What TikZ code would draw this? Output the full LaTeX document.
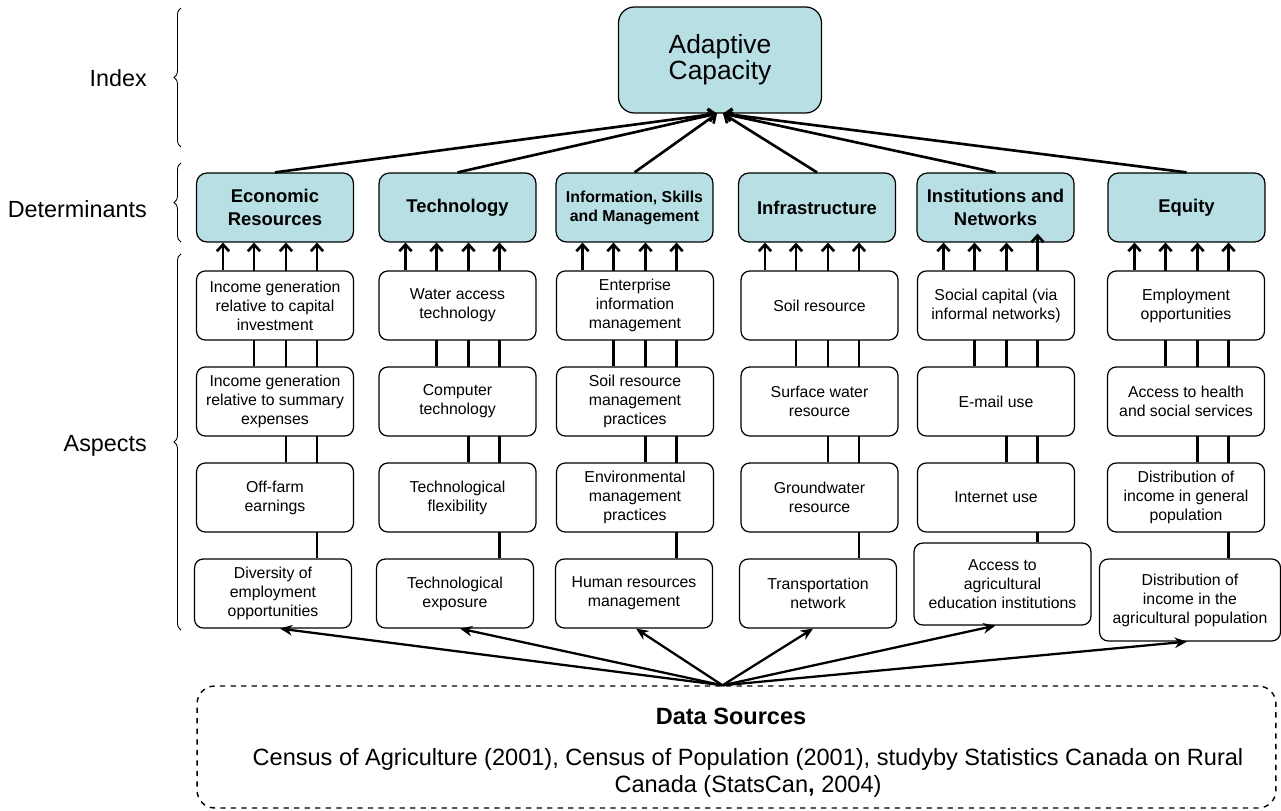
\documentclass[tikz,border=0pt]{standalone}
\usepackage{fontspec}
\setmainfont{Liberation Sans}
\usepackage{xcolor}
\usetikzlibrary{arrows.meta, calc, decorations.pathreplacing}
\definecolor{detfill}{RGB}{184,223,227}
\tikzstyle{arrow} = [line width=1.5pt,-{Straight Barb[length=3.8pt,width=7pt]}]
\tikzstyle{feed}  = [line width=1.3pt,-{Stealth[length=7pt,width=6pt]}]
\tikzstyle{riser} = [line width=1.5pt]
\tikzset{every node/.style={align=center}}
\pgfdeclarelayer{background}
\pgfsetlayers{background,main}

\begin{document}
\begin{tikzpicture}[x=0.02cm, y=-0.02cm,
    det/.style={rectangle, rounded corners=6pt, draw, line width=0.7pt, fill=detfill,
                minimum width=3.14cm, minimum height=1.38cm, inner sep=1pt,
                font=\fontsize{10.5}{13.5}\selectfont\bfseries},
    aspect/.style={rectangle, rounded corners=5pt, draw, line width=0.7pt, fill=white,
                minimum width=3.14cm, minimum height=1.38cm, inner sep=1pt,
                font=\fontsize{9}{10.8}\selectfont},
    level/.style={anchor=east, font=\fontsize{13.3}{16}\selectfont},
    lbrace/.style={decorate, decoration={brace, amplitude=4pt}, line width=0.5pt}
]
  \useasboundingbox (0,0) rectangle (1281,811);

  % --- Levels on the left ---
  \node[level] (LIDX) at (153,78)  {Index};
  \node[level] (LDET) at (153,209) {Determinants};
  \node[level] (LASP) at (153,446) {Aspects};
  \draw[lbrace] (181,147) -- (181,8);
  \draw[lbrace] (181,242) -- (181,163);
  \draw[lbrace] (181,630) -- (181,254);

  % --- Index ---
  \node[det, minimum width=4.06cm, minimum height=2.12cm, rounded corners=9pt,
        font=\fontsize{15}{15}\selectfont] (AC) at (720,60) {Adaptive\\Capacity};

  % --- Determinants ---
  \node[det] (D1) at (275,207.5)    {Economic\\Resources};
  \node[det] (D2) at (457.5,207.5)  {Technology};
  \node[det, font=\fontsize{9}{10.8}\selectfont\bfseries]
             (D3) at (634.5,207.5)  {Information, Skills\\and Management};
  \node[det] (D4) at (817,207.5)    {Infrastructure};
  \node[det] (D5) at (995.5,207.5)  {Institutions and\\Networks};
  \node[det] (D6) at (1186.5,207.5) {Equity};

  % --- Aspects: economic resources ---
  \node[aspect] (A11) at (275,305.5) {Income generation\\relative to capital\\investment};
  \node[aspect] (A12) at (275,401.5) {Income generation\\relative to summary\\expenses};
  \node[aspect] (A13) at (275,497.5) {Off-farm\\earnings};
  \node[aspect] (A14) at (273,593.5) {Diversity of\\employment\\opportunities};

  % --- Aspects: technology ---
  \node[aspect] (A21) at (457.5,305.5) {Water access\\technology};
  \node[aspect] (A22) at (457.5,401.5) {Computer\\technology};
  \node[aspect] (A23) at (457.5,497.5) {Technological\\flexibility};
  \node[aspect] (A24) at (455,593.5)   {Technological\\exposure};

  % --- Aspects: information, skills and management ---
  \node[aspect] (A31) at (635,305.5) {Enterprise\\information\\management};
  \node[aspect] (A32) at (635,401.5) {Soil resource\\management\\practices};
  \node[aspect] (A33) at (635,497.5) {Environmental\\management\\practices};
  \node[aspect] (A34) at (634,593.5) {Human resources\\management};

  % --- Aspects: infrastructure ---
  \node[aspect] (A41) at (819.5,305.5) {Soil resource};
  \node[aspect] (A42) at (819.5,401.5) {Surface water\\resource};
  \node[aspect] (A43) at (819.5,497.5) {Groundwater\\resource};
  \node[aspect] (A44) at (818,593.5)   {Transportation\\network};

  % --- Aspects: institutions and networks ---
  \node[aspect] (A51) at (996,305.5) {Social capital (via\\informal networks)};
  \node[aspect] (A52) at (996,401.5) {E-mail use};
  \node[aspect] (A53) at (996,497.5) {Internet use};
  \node[aspect, minimum width=3.54cm, minimum height=1.64cm]
                (A54) at (1002.5,584) {Access to\\agricultural\\education institutions};

  % --- Aspects: equity ---
  \node[aspect] (A61) at (1186,305.5) {Employment\\opportunities};
  \node[aspect] (A62) at (1186,401.5) {Access to health\\and social services};
  \node[aspect] (A63) at (1186,497.5) {Distribution of\\income in general\\population};
  \node[aspect, minimum width=3.62cm, minimum height=1.64cm]
                (A64) at (1190,600) {Distribution of\\income in the\\agricultural population};

  % --- Data sources ---
  \node[rectangle, rounded corners=10pt, draw, dashed, line width=0.8pt,
        minimum width=21.58cm, minimum height=2.44cm] (DS) at (736.5,747) {};
  \node[font=\fontsize{13.4}{15.3}\selectfont\bfseries] (DST) at (731,716) {Data Sources};
  \node[font=\fontsize{13.4}{15.3}\selectfont] (DSB) at (748,773)
       {Census of Agriculture (2001), Census of Population (2001), studyby Statistics Canada on Rural\\
        Canada (StatsCan\textbf{,} 2004)};
  \coordinate (HUB) at ($(DS.north)+(-14,0)$);

  % --- aspects feed their determinant ---
  \foreach \c in {1,...,6}
    \foreach \k/\dx in {1/-52,2/-21,3/11,4/42}
      \coordinate (P\c-\k) at ($(D\c.south)+(\dx,0)$);
  \coordinate (P5-4) at ($(D5.south)+(42,-9)$);
  \begin{pgfonlayer}{background}
    \foreach \c in {1,...,6}
      \foreach \k in {2,3,4}
        \draw[riser] (A\c\k.north -| P\c-\k) -- (A\c1.north -| P\c-\k);
  \end{pgfonlayer}
  \foreach \c in {1,...,6}
    \foreach \k in {1,...,4}
      \draw[arrow] (A\c1.north -| P\c-\k) -- (P\c-\k);

  % --- determinants feed the index ---
  \foreach \c in {1,2,3}
    \draw[arrow] (D\c.north) -- ($(AC.south)+(-3,0)$);
  \foreach \c in {4,5,6}
    \draw[arrow] (D\c.north) -- ($(AC.south)+(3,0)$);

  % --- data sources feed the aspects ---
  \foreach \c/\dx in {1/7,2/5,3/2,4/-5,5/-7,6/-3}
    \draw[feed] (HUB) -- ($(A\c4.south)+(\dx,0)$);
\end{tikzpicture}
\end{document}
